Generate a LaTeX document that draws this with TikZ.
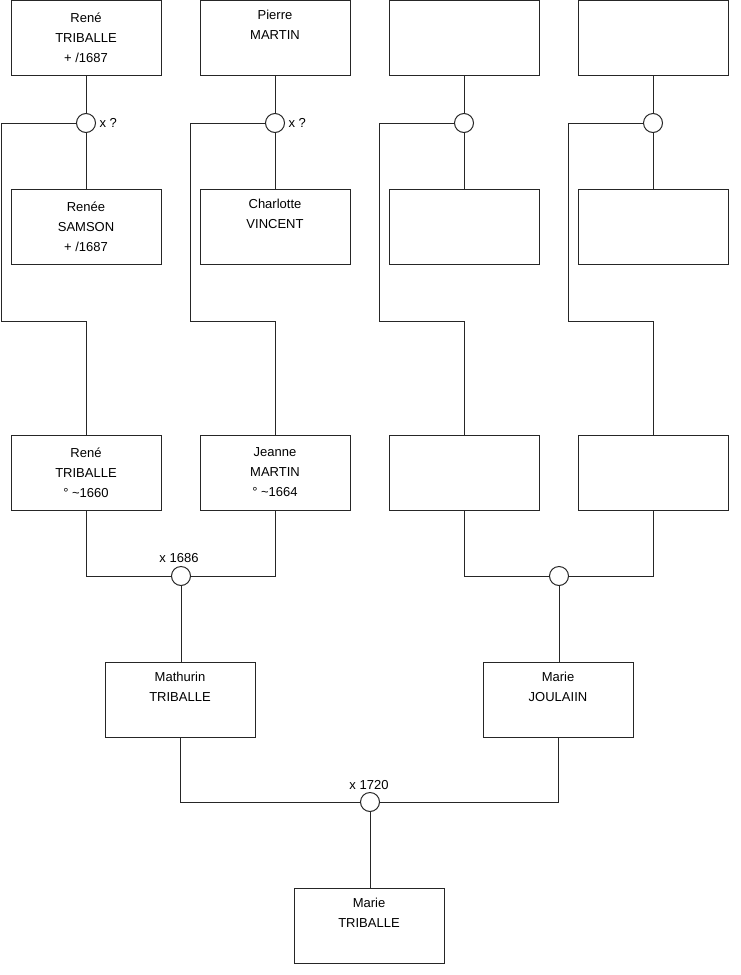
\documentclass[tikz,border=0pt]{standalone}
\usepackage{fontspec}
\setmainfont{Liberation Sans}
\begin{document}
\begin{tikzpicture}[x=1pt,y=-1pt,
  person/.style={draw=black!85, line width=1pt, fill=white, minimum width=150pt, minimum height=75pt,
    inner sep=0pt, align=center, font=\fontsize{13}{20}\selectfont},
  union/.style={circle, draw=black!85, line width=1pt, fill=white, minimum size=19pt, inner sep=0pt},
  lbl/.style={font=\fontsize{13}{15}\selectfont},
  link/.style={draw=black!85, line width=1pt}]
\useasboundingbox (0,0) rectangle (740,975);
\fill[white] (0,0) rectangle (740,975);
% top row
\node[person] (p1) at (86,38) {René\\TRIBALLE\\+ /1687};
\node[person] (p2) at (275,38) {Pierre\\MARTIN\\\strut};
\node[person] (p3) at (464,38) {};
\node[person] (p4) at (653,38) {};
% unions row 1
\node[union] (u1) at (86,123) {};
\node[union] (u2) at (275,123) {};
\node[union] (u3) at (464,123) {};
\node[union] (u4) at (653,123) {};
\node[lbl, anchor=west] (l1) at (96,123) {x ?};
\node[lbl, anchor=west] (l2) at (285,123) {x ?};
% second row
\node[person] (s1) at (86,227) {Renée\\SAMSON\\+ /1687};
\node[person] (s2) at (275,227) {Charlotte\\VINCENT\\\strut};
\node[person] (s3) at (464,227) {};
\node[person] (s4) at (653,227) {};
% third row
\node[person] (t1) at (86,472.5) {René\\TRIBALLE\\° \textasciitilde1660};
\node[person] (t2) at (275,472.5) {Jeanne\\MARTIN\\° \textasciitilde1664};
\node[person] (t3) at (464,472.5) {};
\node[person] (t4) at (653,472.5) {};
% unions row 2
\node[union] (v1) at (181,576) {};
\node[union] (v2) at (559,576) {};
\node[lbl] (lv1) at (179,558) {x 1686};
% fourth row
\node[person] (f1) at (180,699.5) {Mathurin\\TRIBALLE\\\strut};
\node[person] (f2) at (558,699.5) {Marie\\JOULAIIN\\\strut};
% union row 3
\node[union] (w1) at (370,802) {};
\node[lbl] (lw1) at (369,785) {x 1720};
% bottom
\node[person] (b1) at (369,926) {Marie\\TRIBALLE\\\strut};
% connectors
\foreach \i/\x in {1/1,2/190,3/379,4/568}{
  \draw[link] (p\i.south) -- (u\i.north);
  \draw[link] (u\i.south) -- (s\i.north);
  \draw[link] (u\i.west) -| (\x,321) -| (t\i.north);
}
\draw[link] (t1.south) |- (v1.west);
\draw[link] (t2.south) |- (v1.east);
\draw[link] (t3.south) |- (v2.west);
\draw[link] (t4.south) |- (v2.east);
\draw[link] (v1.south) -- (v1.south |- f1.north);
\draw[link] (v2.south) -- (v2.south |- f2.north);
\draw[link] (f1.south) |- (w1.west);
\draw[link] (f2.south) |- (w1.east);
\draw[link] (w1.south) -- (w1.south |- b1.north);
\end{tikzpicture}
\end{document}
